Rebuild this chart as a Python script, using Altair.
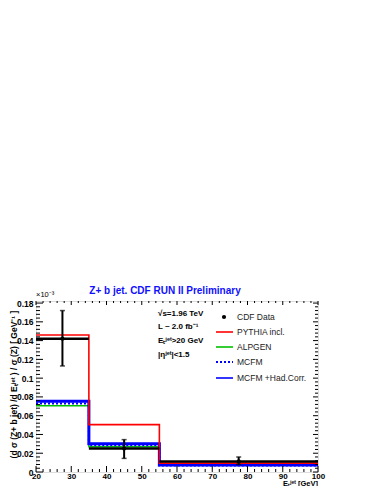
import altair as alt
import pandas as pd

# ---- data ----
edges = [20, 35, 55, 100]
centers = [27.5, 45.0, 77.5]
pythia = [0.146, 0.0505, 0.0095]
alpgen = [0.0705, 0.0270, 0.0078]
mcfm = [0.0730, 0.0285, 0.0068]
mcfm_had = [0.0755, 0.0300, 0.0074]
data_val = [0.142, 0.0250, 0.0112]
data_hi = [0.172, 0.0345, 0.0160]
data_lo = [0.113, 0.0145, 0.0080]

x_major = [20, 30, 40, 50, 60, 70, 80, 90, 100]
x_minor = [22, 24, 26, 28, 32, 34, 36, 38, 42, 44, 46, 48, 52, 54, 56, 58,
           62, 64, 66, 68, 72, 74, 76, 78, 82, 84, 86, 88, 92, 94, 96, 98]
y_major = [0, 0.02, 0.04, 0.06, 0.08, 0.1, 0.12, 0.14, 0.16, 0.18]
y_minor = [round(0.004 * i, 3) for i in range(1, 46) if i % 5 != 0]

legend_names = ["CDF Data", "PYTHIA incl.", "ALPGEN", "MCFM", "MCFM +Had.Corr."]
legend_colors = ["black", "#ff0000", "#00c000", "#0000ff", "#0000ff"]

W, H = 282, 171
YMAX = 0.1822
FONT = "Liberation Sans"

xs = alt.Scale(domain=[20, 100], nice=False, zero=False)
ys = alt.Scale(domain=[0, YMAX], nice=False, zero=False)

x_axis = alt.Axis(values=x_major, ticks=False, domain=False, grid=False, title=None,
                  labelFont=FONT, labelFontSize=8, labelFontWeight="bold",
                  labelColor="black", labelPadding=0, labelFlush=False)
y_axis = alt.Axis(values=y_major, ticks=False, domain=False, grid=False, title=None,
                  format="~g", labelFont=FONT, labelFontSize=8.5, labelFontWeight="bold",
                  labelColor="black", labelPadding=3)


def X(f):
    return alt.X(f, scale=xs, axis=x_axis)


def Y(f):
    return alt.Y(f, scale=ys, axis=y_axis)


def step_df(vals):
    return pd.DataFrame({"x": edges, "y": list(vals) + [vals[-1]]})


def step(vals, color, width, dash=None):
    kw = dict(interpolate="step-after", color=color, strokeWidth=width, clip=True)
    if dash:
        kw["strokeDash"] = dash
    return alt.Chart(step_df(vals)).mark_line(**kw).encode(x=X("x:Q"), y=Y("y:Q"))


layers = []
layers.append(step(alpgen, "#00c000", 1.5))
layers.append(step(mcfm_had, "#0000ff", 3))
layers.append(step(mcfm, "#0000ff", 2, dash=[2, 2]))
layers.append(step(pythia, "#ff0000", 1.6))

dat = pd.DataFrame({"lo_edge": edges[:-1], "hi_edge": edges[1:], "c": centers,
                    "v": data_val, "hi": data_hi, "lo": data_lo})
base = alt.Chart(dat)
layers.append(base.mark_rule(color="black", strokeWidth=2.5).encode(
    x=X("lo_edge:Q"), x2="hi_edge:Q", y=Y("v:Q")))
layers.append(base.mark_rule(color="black", strokeWidth=2).encode(
    x=X("c:Q"), y=Y("lo:Q"), y2="hi:Q"))
for f in ["hi", "lo"]:
    layers.append(base.mark_tick(color="black", orient="horizontal", size=5, thickness=1.5).encode(
        x=X("c:Q"), y=Y(f + ":Q")))
layers.append(base.mark_circle(color="black", size=18, opacity=1).encode(
    x=X("c:Q"), y=Y("v:Q")))


# ---- frame ticks (inward) ----
def xticks(vals, y0, y1):
    return alt.Chart(pd.DataFrame({"t": vals})).mark_rule(color="black", strokeWidth=1).encode(
        x=X("t:Q"), y=alt.value(y0), y2=alt.value(y1))


def yticks(vals, x0, x1):
    return alt.Chart(pd.DataFrame({"t": vals})).mark_rule(color="black", strokeWidth=1).encode(
        y=Y("t:Q"), x=alt.value(x0), x2=alt.value(x1))


layers += [xticks(x_major, H, H - 6), xticks(x_minor, H, H - 3),
           xticks(x_major, 0, 4), xticks(x_minor, 0, 2),
           yticks(y_major, 0, 7), yticks(y_minor, 0, 4),
           yticks(y_major, W, W - 5), yticks(y_minor, W, W - 3)]


# ---- texts ----
def txt(s, x, y, size=8.5, weight="normal", color="black", align="left", angle=0, baseline="middle"):
    kw = dict(font=FONT, fontSize=size, fontWeight=weight, color=color, align=align,
              baseline=baseline)
    if angle:
        kw["angle"] = angle
    return alt.Chart(pd.DataFrame({"s": [s]})).mark_text(**kw).encode(
        text="s:N", x=alt.value(x), y=alt.value(y))


layers.append(txt("Z+ b jet. CDF RUN II Preliminary", 129, -10, size=10, weight="bold",
                  color="#1010ff", align="center"))
layers.append(txt("×10⁻³", 0, -6, size=7.5))
layers.append(txt("(d σ (Z+ b jet) /d Eₜʲᵉᵗ ) / σ (Z)      [ GeV⁻¹ ]", -22.5, H / 2 - 2, size=8.5,
                  weight="bold", align="center", angle=270))
layers.append(txt("Eₜʲᵉᵗ    [GeV]", W, 184.5, size=7.5, weight="bold", align="right",
                  baseline="alphabetic"))

info = ["√s=1.96 TeV", "L ~ 2.0 fb⁻¹", "Eₜʲᵉᵗ>20 GeV", "|ηʲᵉᵗ|<1.5"]
info_y = [13, 26, 40, 54]
for s, yy in zip(info, info_y):
    layers.append(txt(s, 122, yy, size=8, weight="bold"))

leg_y = [16, 31, 46, 61, 77]
for i, (name, col) in enumerate(zip(legend_names, legend_colors)):
    yy = leg_y[i]
    one = alt.Chart(pd.DataFrame({"n": [name]}))
    if i == 0:
        layers.append(one.mark_circle(color=col, size=18, opacity=1).encode(
            x=alt.value(188), y=alt.value(yy)))
    else:
        kw = dict(color=col, strokeWidth=1.6)
        if i == 3:
            kw["strokeDash"] = [2, 2]
            kw["strokeWidth"] = 2
        layers.append(one.mark_rule(**kw).encode(
            x=alt.value(180), x2=alt.value(197), y=alt.value(yy)))
    layers.append(txt(name, 201, yy, size=8.5, color="#222222"))

chart = alt.layer(*layers).properties(
    width=W, height=H,
    autosize=alt.AutoSizeParams(type="none"),
    padding={"left": 28, "top": 293, "right": 56, "bottom": 14},
).configure_view(stroke="black", strokeWidth=1.2).configure(background="white")

chart.save("out.html", embed_options={"renderer": "svg", "actions": False})
